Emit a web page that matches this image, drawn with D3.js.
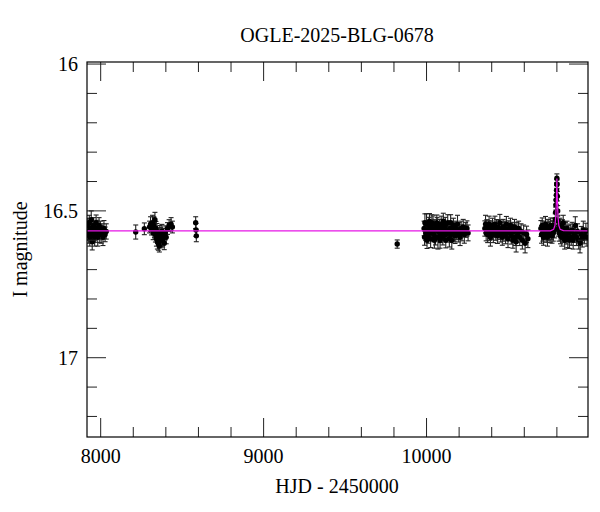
<!DOCTYPE html>
<html>
<head>
<meta charset="utf-8">
<script src="https://cdn.jsdelivr.net/npm/d3@7"></script>
<style>
  body { margin: 0; background: #fff; }
  text { font-family: "Liberation Serif", "DejaVu Serif", serif; fill: #000; }
</style>
</head>
<body>
<div id="chart"></div>
<script>
// observations: [HJD - 2450000, I mag, error]
const season2017 = [
  [7921,16.55,.025],[7924,16.58,.03],[7927,16.57,.028],[7930,16.54,.025],[7933,16.59,.03],
  [7936,16.56,.027],[7939,16.58,.025],[7942,16.53,.03],[7945,16.57,.026],[7948,16.605,.028],
  [7951,16.56,.025],[7954,16.58,.028],[7957,16.55,.027],[7960,16.57,.025],[7963,16.59,.03],
  [7966,16.56,.025],[7969,16.58,.027],[7972,16.54,.026],[7975,16.57,.025],[7978,16.56,.028],
  [7982,16.59,.03],[7986,16.57,.025],[7990,16.55,.027],[7994,16.58,.028],[7998,16.56,.025],
  [8003,16.58,.03],[8008,16.57,.026],[8014,16.59,.028],[8020,16.56,.027],[8027,16.58,.025],
  [8034,16.57,.026]
];
const season2018 = [
  [8215,16.572,.024],[8268,16.561,.02],
  [8300,16.555,.02],[8306,16.545,.025],[8312,16.56,.022],[8318,16.54,.025],[8322,16.575,.023],
  [8326,16.55,.03],[8330,16.565,.025],[8333,16.53,.025],[8336,16.58,.026],[8339,16.56,.024],
  [8342,16.595,.025],[8345,16.57,.027],[8348,16.605,.025],[8351,16.585,.026],[8354,16.61,.024],
  [8357,16.59,.025],[8360,16.62,.02],[8363,16.575,.025],[8366,16.6,.026],[8369,16.58,.024],
  [8372,16.595,.025],[8376,16.57,.024],[8380,16.6,.023],[8385,16.585,.025],[8390,16.61,.022],
  [8396,16.575,.024],[8402,16.59,.022],[8410,16.56,.02],[8420,16.55,.02],[8432,16.545,.022],
  [8440,16.555,.02],
  [8583,16.54,.02],[8585,16.565,.022],[8587,16.585,.02]
];
const season2022 = [[9820,16.613,.014]];
const season2023 = [
  [9985,16.56,.025],[9988,16.59,.027],[9990,16.54,.03],[9995,16.575,.026],[10000,16.545,.035],
  [10003,16.6,.028],[10005,16.565,.027],[10010,16.585,.025],[10015,16.55,.028],[10018,16.535,.026],
  [10020,16.57,.026],[10025,16.595,.03],[10030,16.56,.025],[10033,16.54,.027],[10035,16.575,.027],
  [10040,16.545,.028],[10045,16.58,.025],[10048,16.6,.027],[10050,16.56,.03],[10055,16.59,.026],
  [10060,16.565,.025],[10063,16.54,.026],[10065,16.55,.027],[10070,16.59,.04],[10075,16.57,.025],
  [10080,16.555,.026],[10083,16.6,.027],[10085,16.58,.028],[10090,16.545,.027],[10095,16.57,.025],
  [10100,16.59,.026],[10103,16.535,.027],[10105,16.56,.03],[10110,16.575,.025],[10115,16.55,.028],
  [10118,16.6,.026],[10120,16.58,.026],[10125,16.565,.025],[10130,16.54,.027],[10135,16.575,.026],
  [10140,16.595,.028],[10145,16.56,.025],[10148,16.54,.027],[10150,16.58,.027],[10155,16.6,.03],
  [10160,16.565,.026],[10165,16.55,.025],[10170,16.575,.028],[10175,16.585,.026],[10180,16.56,.025],
  [10185,16.57,.027],[10190,16.545,.03],[10195,16.58,.026],[10200,16.565,.025],[10206,16.59,.028],
  [10212,16.56,.025],[10218,16.575,.027],[10225,16.555,.026],[10232,16.58,.03],[10240,16.565,.025],
  [10248,16.56,.026],[10255,16.575,.027]
];
const season2024 = [
  [10358,16.56,.026],[10362,16.545,.03],[10366,16.575,.027],[10370,16.555,.025],[10375,16.58,.028],
  [10380,16.56,.026],[10384,16.545,.027],[10388,16.575,.025],[10392,16.59,.03],[10396,16.56,.026],
  [10400,16.57,.027],[10405,16.55,.025],[10410,16.58,.028],[10415,16.565,.026],[10420,16.545,.027],
  [10425,16.575,.025],[10430,16.56,.03],[10435,16.585,.026],[10440,16.555,.025],[10445,16.57,.027],
  [10450,16.54,.028],[10455,16.58,.026],[10460,16.565,.025],[10465,16.59,.027],[10470,16.555,.026],
  [10475,16.575,.028],[10480,16.56,.025],[10485,16.585,.027],[10490,16.545,.026],[10495,16.57,.025],
  [10500,16.595,.03],[10505,16.56,.026],[10510,16.575,.027],[10515,16.55,.025],[10520,16.585,.028],
  [10525,16.565,.026],[10530,16.6,.027],[10535,16.57,.025],[10540,16.555,.026],[10545,16.59,.028],
  [10550,16.605,.035],[10555,16.565,.026],[10560,16.58,.027],[10565,16.56,.025],[10572,16.59,.028],
  [10580,16.57,.026],[10588,16.6,.03],[10596,16.575,.027],[10605,16.61,.033],[10614,16.58,.028],
  [10622,16.595,.03]
];
const season2025 = [
  [10702,16.56,.027],[10706,16.58,.03],[10710,16.55,.026],[10714,16.575,.028],[10718,16.59,.027],
  [10722,16.56,.025],[10726,16.57,.028],[10730,16.545,.026],[10734,16.58,.027],[10738,16.565,.025],
  [10742,16.59,.03],[10746,16.555,.026],[10750,16.575,.027],[10754,16.56,.025],[10758,16.58,.028],
  [10762,16.55,.026],[10766,16.57,.027],[10770,16.585,.025],[10774,16.56,.026],[10778,16.575,.028],
  [10782,16.55,.025],[10786,16.565,.027],
  [10790,16.53,.02],[10792,16.505,.018],[10794,16.48,.017],[10795,16.463,.016],[10797,16.446,.016],
  [10798,16.43,.016],[10799,16.408,.015],[10800,16.389,.015],[10801,16.41,.015],[10803,16.45,.016],
  [10805,16.5,.018],[10807,16.535,.02],
  [10810,16.56,.026],[10814,16.575,.028],[10818,16.55,.025],[10822,16.585,.027],[10826,16.565,.026],
  [10830,16.59,.03],[10834,16.555,.025],[10839,16.54,.025],[10843,16.58,.027],[10848,16.6,.03],
  [10852,16.565,.026],[10857,16.585,.028],[10862,16.56,.025],[10867,16.595,.03],[10872,16.575,.026],
  [10877,16.6,.028],[10882,16.57,.025],[10888,16.59,.027],[10894,16.565,.026],[10900,16.6,.03],
  [10906,16.58,.027],[10913,16.55,.03],[10920,16.59,.028],[10927,16.57,.026],[10934,16.6,.03],
  [10942,16.61,.033],[10950,16.58,.027],[10956,16.595,.028],[10962,16.565,.03],[10970,16.585,.027],
  [10978,16.57,.028],[10985,16.59,.03]
];

// model curve (HJD, mag)
const modelHjd = [7916, 10760, 10780, 10788, 10793, 10796, 10798, 10800, 10802, 10804, 10807, 10812, 10820, 10840, 10991];
const modelMag = [16.568, 16.568, 16.563, 16.55, 16.52, 16.48, 16.44, 16.39, 16.44, 16.48, 16.52, 16.55, 16.563, 16.567, 16.568];

const xMajor = [8000, 9000, 10000];
const yMajor = [16, 16.5, 17];

const width = 600, height = 512;
const margin = { top: 62, right: 12, bottom: 75, left: 87 };

const svg = d3.select("#chart").append("svg")
  .attr("width", width).attr("height", height);

const x = d3.scaleLinear().domain([7916, 10991]).range([margin.left, width - margin.right]);
const y = d3.scaleLinear().domain([15.993, 17.27]).range([margin.top, height - margin.bottom]);

svg.append("clipPath").attr("id", "clip").append("rect")
  .attr("x", margin.left).attr("y", margin.top)
  .attr("width", width - margin.left - margin.right)
  .attr("height", height - margin.top - margin.bottom);

const obs = [].concat(season2017, season2018, season2022, season2023, season2024, season2025);

const plot = svg.append("g").attr("clip-path", "url(#clip)");

// error bars
const eb = plot.append("g").attr("stroke", "#222").attr("stroke-width", 1.1);
obs.forEach(d => {
  const px = x(d[0]);
  eb.append("line").attr("x1", px).attr("x2", px).attr("y1", y(d[1] - d[2])).attr("y2", y(d[1] + d[2]));
  eb.append("line").attr("x1", px - 2.5).attr("x2", px + 2.5).attr("y1", y(d[1] - d[2])).attr("y2", y(d[1] - d[2]));
  eb.append("line").attr("x1", px - 2.5).attr("x2", px + 2.5).attr("y1", y(d[1] + d[2])).attr("y2", y(d[1] + d[2]));
});

plot.append("g").selectAll("circle")
  .data(obs)
  .enter()
  .append("circle")
  .attr("cx", d => x(d[0]))
  .attr("cy", d => y(d[1]))
  .attr("r", 2.7)
  .attr("fill", "#000");

// model
const line = d3.line().x(d => x(d[0])).y(d => y(d[1]));
plot.append("path")
  .datum(modelHjd.map((h, i) => [h, modelMag[i]]))
  .attr("d", line)
  .attr("fill", "none")
  .attr("stroke", "#e616e6")
  .attr("stroke-width", 1.2);

// ticks on all four sides, pointing inward
const x0 = margin.left, x1 = width - margin.right, y0 = margin.top, y1 = height - margin.bottom;
const ticks = svg.append("g").attr("stroke", "#222").attr("stroke-width", 1);
d3.range(8000, 11000, 200).forEach(v => {
  const len = xMajor.includes(v) ? 19 : 10;
  ticks.append("line").attr("x1", x(v)).attr("x2", x(v)).attr("y1", y1).attr("y2", y1 - len);
  ticks.append("line").attr("x1", x(v)).attr("x2", x(v)).attr("y1", y0).attr("y2", y0 + len);
});
d3.range(16, 17.25, 0.1).forEach(v => {
  v = Math.round(v * 10) / 10;
  const len = yMajor.includes(v) ? 19 : 10;
  ticks.append("line").attr("x1", x0).attr("x2", x0 + len).attr("y1", y(v)).attr("y2", y(v));
  ticks.append("line").attr("x1", x1).attr("x2", x1 - len).attr("y1", y(v)).attr("y2", y(v));
});

svg.append("rect")
  .attr("x", x0).attr("y", y0).attr("width", x1 - x0).attr("height", y1 - y0)
  .attr("fill", "none").attr("stroke", "#000").attr("stroke-width", 1.2);

// tick labels
svg.selectAll(".xl").data(xMajor).enter().append("text")
  .attr("x", d => x(d)).attr("y", 463)
  .attr("text-anchor", "middle").attr("font-size", 20)
  .text(d => d);
svg.selectAll(".yl").data(yMajor).enter().append("text")
  .attr("x", 78).attr("y", d => y(d) + 7)
  .attr("text-anchor", "end").attr("font-size", 20)
  .text(d => d);

// titles
svg.append("text").attr("x", 337).attr("y", 42)
  .attr("text-anchor", "middle").attr("font-size", 20)
  .text("OGLE-2025-BLG-0678");
svg.append("text").attr("x", 337).attr("y", 493)
  .attr("text-anchor", "middle").attr("font-size", 20)
  .text("HJD - 2450000");
svg.append("text")
  .attr("transform", "translate(27," + ((y0 + y1) / 2) + ") rotate(-90)")
  .attr("text-anchor", "middle").attr("font-size", 20)
  .text("I magnitude");
</script>
</body>
</html>
